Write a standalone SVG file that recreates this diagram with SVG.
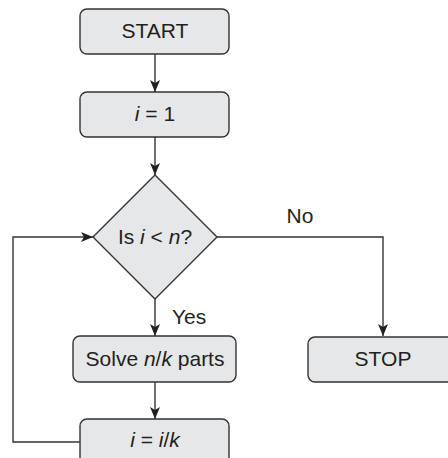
<svg xmlns="http://www.w3.org/2000/svg" width="448" height="458" viewBox="0 0 448 458">
  <style>
    .box { fill: #e6e7e8; stroke: #333; stroke-width: 1.4; }
    .line { fill: none; stroke: #333; stroke-width: 1.4; }
    text { font-family: "Liberation Sans", Arial, sans-serif; font-size: 21px; fill: #231f20; }
    .c { text-anchor: middle; }
    .it { font-style: italic; }
  </style>
  <defs>
    <marker id="arrow" viewBox="0 0 12 10" refX="12" refY="5" markerWidth="12" markerHeight="10" markerUnits="userSpaceOnUse" orient="auto">
      <path d="M0,0 L12,5 L0,10 L3,5 Z" fill="#231f20"/>
    </marker>
  </defs>
  <rect width="448" height="458" fill="#fff"/>

  <g id="connectors">
    <path class="line" d="M155,54 V92" marker-end="url(#arrow)"/>
    <path class="line" d="M155,137 V175" marker-end="url(#arrow)"/>
    <path class="line" d="M155,299 V336" marker-end="url(#arrow)"/>
    <path class="line" d="M155,382 V419" marker-end="url(#arrow)"/>
    <path class="line" d="M217,237 H383 V336" marker-end="url(#arrow)"/>
    <path class="line" d="M80,442 H13 V237 H93" marker-end="url(#arrow)"/>
    <text x="300" y="223" class="c">No</text>
    <text x="172" y="324">Yes</text>
  </g>

  <g id="start">
    <rect class="box" x="80" y="9" width="149" height="45" rx="7"/>
    <text x="155" y="38" class="c">START</text>
  </g>

  <g id="init">
    <rect class="box" x="80" y="92" width="149" height="45" rx="7"/>
    <text x="155" y="121" class="c"><tspan class="it">i</tspan> = 1</text>
  </g>

  <g id="decision">
    <polygon class="box" points="155,175 217,237 155,299 93,237"/>
    <text x="155" y="244" class="c">Is <tspan class="it">i</tspan> &lt; <tspan class="it">n</tspan>?</text>
  </g>

  <g id="solve">
    <rect class="box" x="73" y="336" width="163" height="46" rx="7"/>
    <text x="155" y="366" class="c">Solve <tspan class="it">n</tspan>/<tspan class="it">k</tspan> parts</text>
  </g>

  <g id="stop">
    <rect class="box" x="308" y="337" width="148" height="45" rx="7"/>
    <text x="383" y="366" class="c">STOP</text>
  </g>

  <g id="update">
    <rect class="box" x="80" y="419" width="149" height="50" rx="7"/>
    <text x="155" y="447" class="c"><tspan class="it">i</tspan> = <tspan class="it">i</tspan>/<tspan class="it">k</tspan></text>
  </g>
</svg>
